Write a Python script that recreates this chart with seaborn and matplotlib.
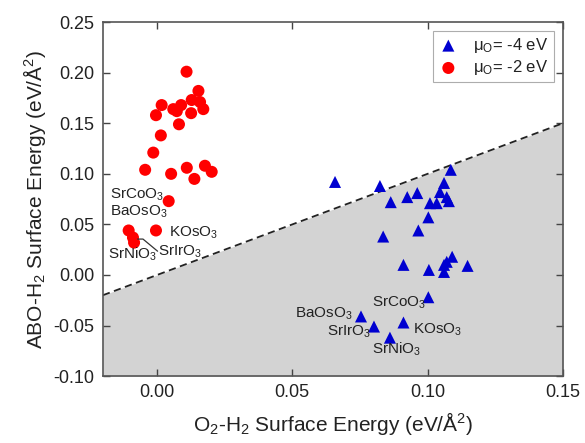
import matplotlib
matplotlib.use("Agg")
import matplotlib.pyplot as plt
import pandas as pd
import seaborn as sns

# mu_O = -4 eV (blue triangles)
blue_x = [0.0658, 0.0824, 0.0864, 0.0925, 0.0962, 0.1086, 0.1061, 0.1046,
          0.1071, 0.1079, 0.1009, 0.1034, 0.1003, 0.0966, 0.0836, 0.0911,
          0.1005, 0.1061, 0.1071, 0.1091, 0.1061, 0.1148,
          0.1003, 0.0754, 0.0802, 0.0911, 0.0861]
blue_y = [0.092, 0.088, 0.072, 0.077, 0.081, 0.104, 0.091, 0.082,
          0.077, 0.073, 0.071, 0.071, 0.057, 0.044, 0.038, 0.010,
          0.005, 0.010, 0.013, 0.018, 0.003, 0.009,
          -0.022, -0.041, -0.051, -0.047, -0.062]

# mu_O = -2 eV (red circles)
red_x = [0.0109, 0.0153, 0.0128, 0.0159, 0.0171, 0.0126, 0.0017, 0.0060,
         0.0073, 0.0089, -0.0004, 0.0081, 0.0014, -0.0014, -0.0044, 0.0052,
         0.0110, 0.0138, 0.0177, 0.0202, 0.0043, -0.0105, -0.0089, -0.0085,
         -0.0004]
red_y = [0.201, 0.182, 0.173, 0.171, 0.164, 0.160, 0.168, 0.164,
         0.162, 0.168, 0.158, 0.149, 0.138, 0.121, 0.104, 0.100,
         0.106, 0.095, 0.108, 0.102, 0.073, 0.044, 0.037, 0.032,
         0.044]

# stability boundary (dashed) y = x
line_x = [-0.02, 0.15]
line_y = [-0.02, 0.15]

# labelled compounds: (text, x, y)
red_labels = [
    ("SrCoO$_3$", -0.0175, 0.0790),
    ("BaOsO$_3$", -0.0175, 0.0620),
    ("KOsO$_3$", 0.0045, 0.0420),
    ("SrNiO$_3$", -0.0180, 0.0200),
    ("SrIrO$_3$", 0.0005, 0.0230),
]
blue_labels = [
    ("SrCoO$_3$", 0.0795, -0.0275),
    ("BaOsO$_3$", 0.0510, -0.0380),
    ("SrIrO$_3$", 0.0630, -0.0560),
    ("KOsO$_3$", 0.0945, -0.0540),
    ("SrNiO$_3$", 0.0795, -0.0735),
]

# leader line from SrIrO3 label to its point
lead_x = [-0.0072, -0.0052, 0.0002]
lead_y = [0.0355, 0.0355, 0.0235]

sns.set_style("ticks")
plt.rcParams["font.family"] = ["Liberation Sans", "DejaVu Sans"]
plt.rcParams["mathtext.fontset"] = "custom"
plt.rcParams["mathtext.rm"] = "Liberation Sans"
plt.rcParams["mathtext.it"] = "Liberation Sans:italic"
plt.rcParams["mathtext.default"] = "regular"

TEXT = "#222222"
fig = plt.figure(figsize=(5.85, 4.43), dpi=100)
ax = fig.add_axes([0.176, 0.151, 0.786, 0.799])

ax.fill_between(line_x, line_y, -0.10, color="#d3d3d3", lw=0, zorder=0)
ax.plot(line_x, line_y, ls=(0, (4, 2.5)), color="#222222", lw=1.3, zorder=1)

blue = pd.DataFrame({"x": blue_x, "y": blue_y})
red = pd.DataFrame({"x": red_x, "y": red_y})
sns.scatterplot(data=blue, x="x", y="y", marker="^", color="#0000d0",
                s=75, edgecolor="none", ax=ax, zorder=3,
                label=r"$\mu_O$= -4 eV")
sns.scatterplot(data=red, x="x", y="y", marker="o", color="#ff0000",
                s=75, edgecolor="none", ax=ax, zorder=3,
                label=r"$\mu_O$= -2 eV")

for t, x, y in red_labels + blue_labels:
    ax.text(x, y, t, ha="left", va="center", fontsize=11, color=TEXT, zorder=4)

ax.plot(lead_x, lead_y, color="#333333", lw=0.9, zorder=4)

ax.set_xlim(-0.02, 0.15)
ax.set_ylim(-0.10, 0.25)
ax.set_xticks([0.00, 0.05, 0.10, 0.15])
ax.set_yticks([-0.10, -0.05, 0.00, 0.05, 0.10, 0.15, 0.20, 0.25])
ax.xaxis.set_major_formatter(matplotlib.ticker.FormatStrFormatter("%.2f"))
ax.yaxis.set_major_formatter(matplotlib.ticker.FormatStrFormatter("%.2f"))
ax.tick_params(direction="in", length=5, width=1, top=True, right=True,
               labelsize=13, colors="#444444", labelcolor=TEXT, pad=6)
for sp in ax.spines.values():
    sp.set_color("#555555")
    sp.set_linewidth(1.2)

ax.set_xlabel("O$_2$-H$_2$ Surface Energy (eV/Å$^2$)", fontsize=15,
              color=TEXT, labelpad=6)
ax.set_ylabel("ABO-H$_2$ Surface Energy (eV/Å$^2$)", fontsize=15,
              color=TEXT, labelpad=4)

leg = ax.legend(loc="upper right", bbox_to_anchor=(0.98, 0.975),
                fontsize=12, frameon=True, fancybox=False,
                handlelength=1.2, handletextpad=0.9, borderpad=0.3,
                labelspacing=0.2, borderaxespad=0.0)
leg.get_frame().set_edgecolor("#999999")
leg.get_frame().set_linewidth(0.8)
for t in leg.get_texts():
    t.set_color(TEXT)

fig.savefig("out.png", dpi=100)
